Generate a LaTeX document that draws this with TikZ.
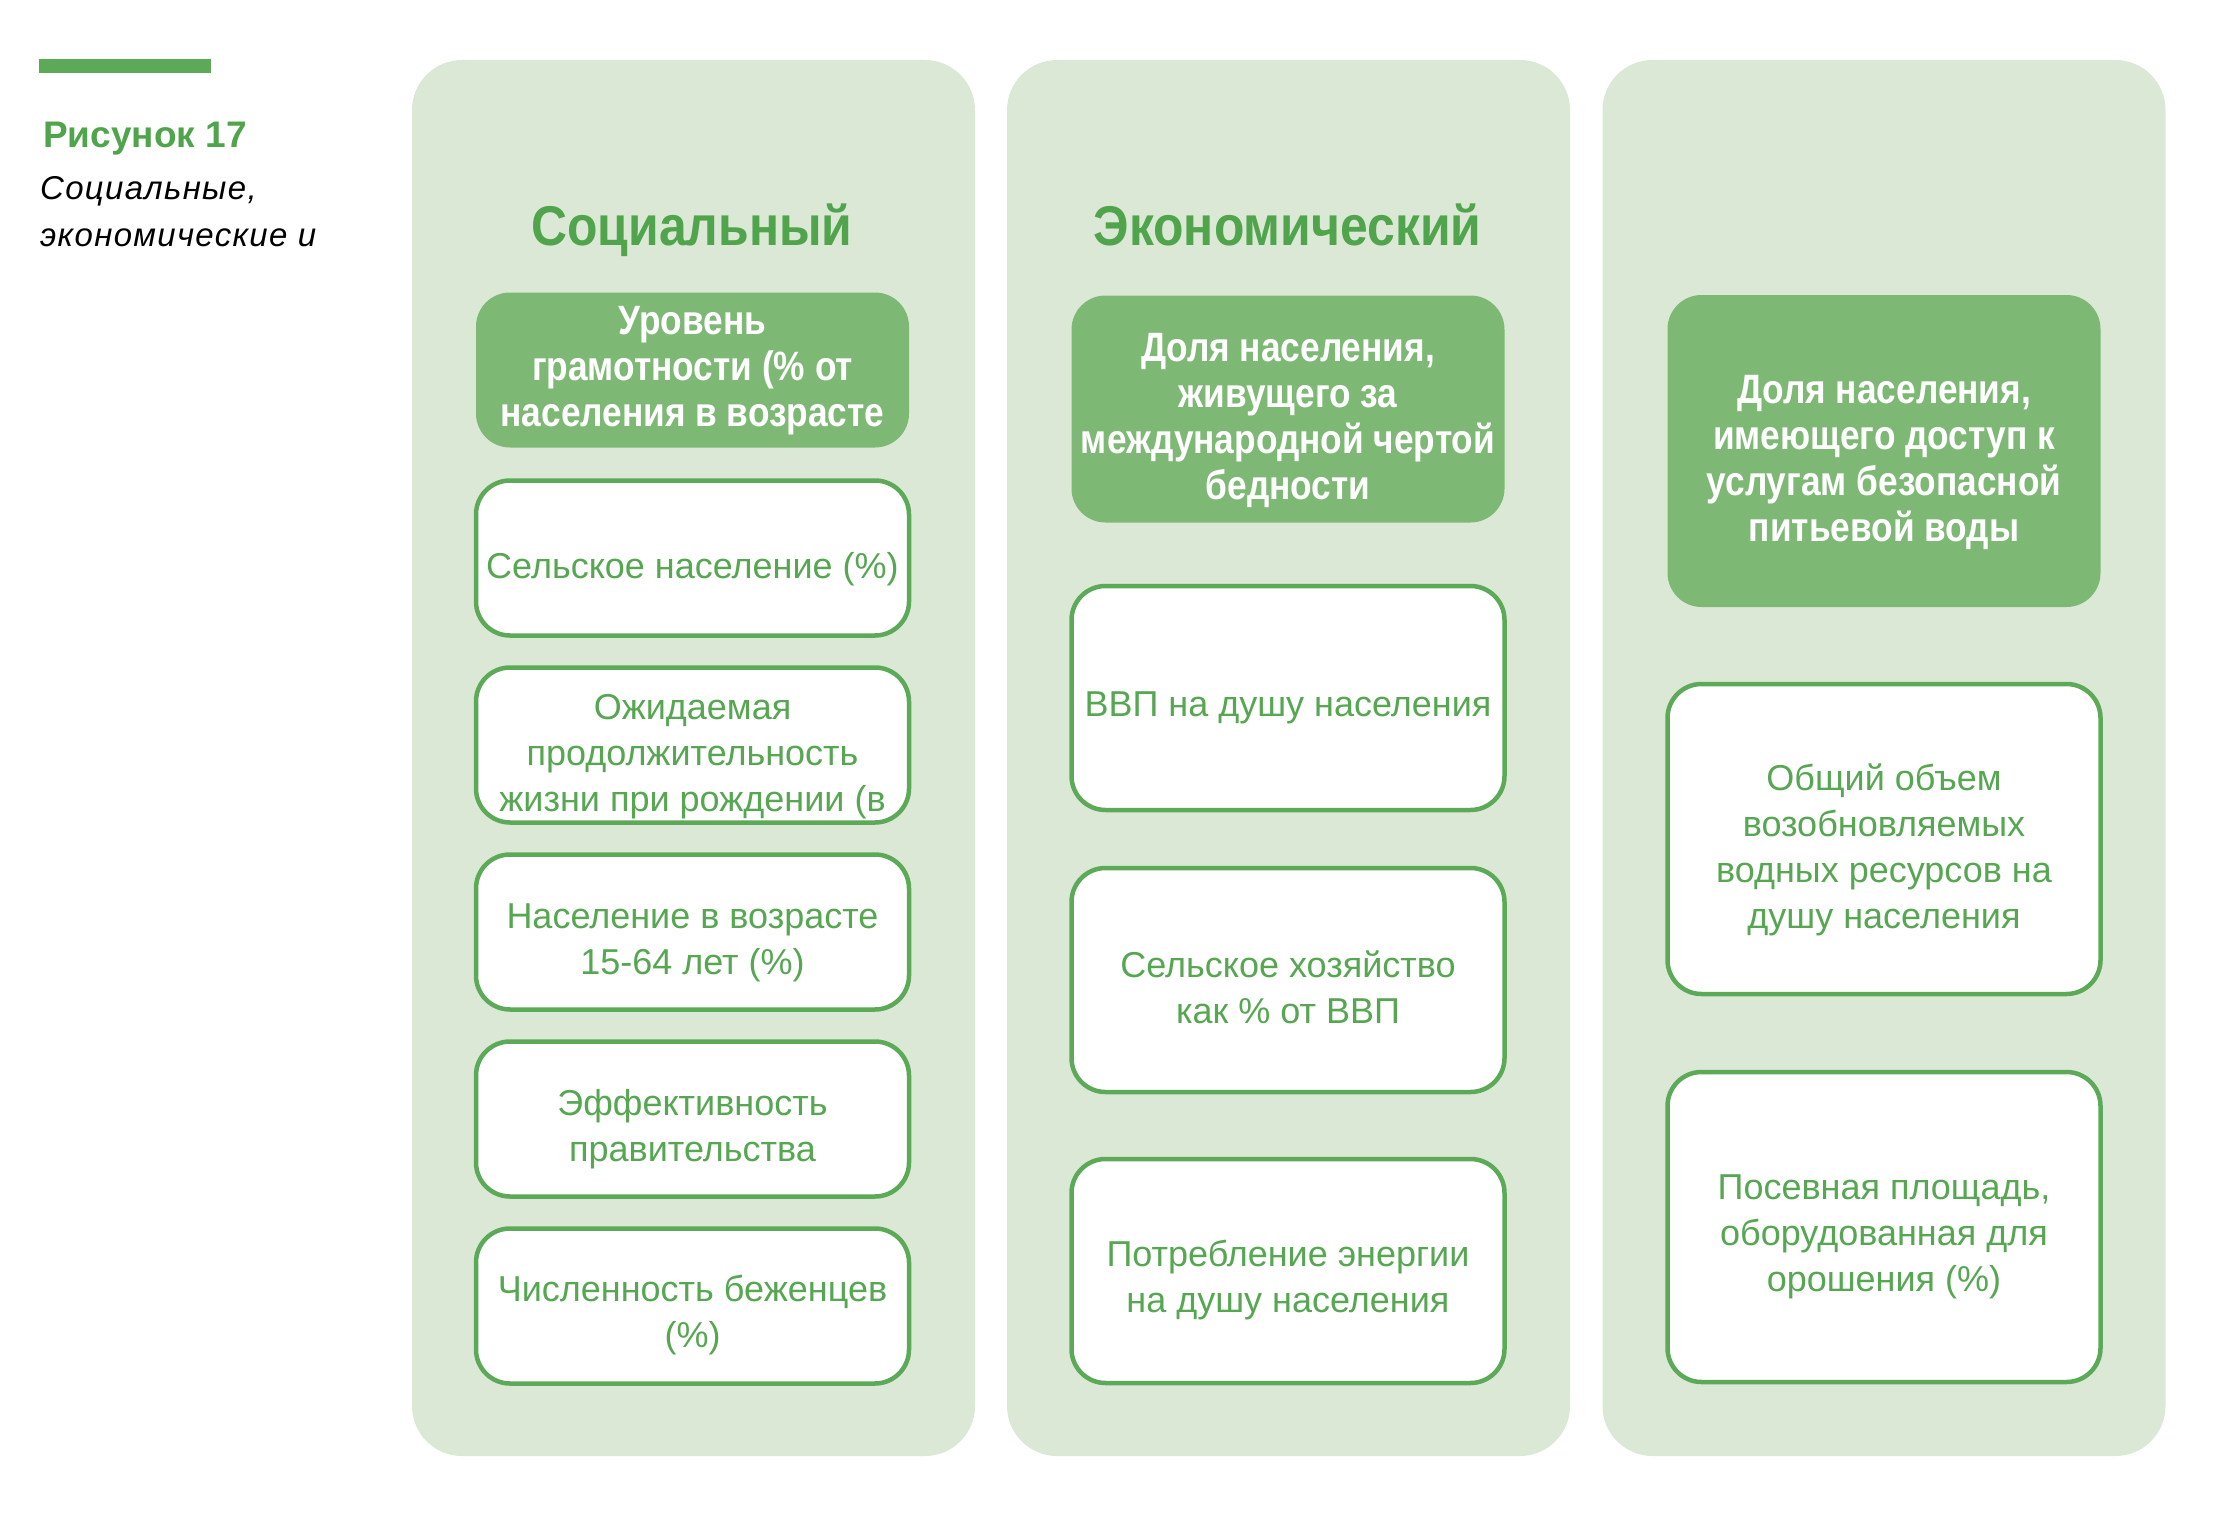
\documentclass[tikz,border=0pt]{standalone}
\usepackage{fontspec}
\setmainfont{Liberation Sans}
\newfontfamily\titlefont[FakeStretch=0.89]{Liberation Sans}
\newfontfamily\headfont[FakeStretch=0.86]{Liberation Sans}
\newfontfamily\capfont[LetterSpace=4]{Liberation Sans}
\definecolor{panelbg}{RGB}{219,232,214}
\definecolor{fillgreen}{RGB}{126,184,117}
\definecolor{linegreen}{RGB}{92,170,88}
\definecolor{textgreen}{RGB}{86,166,82}
\definecolor{titlegreen}{RGB}{80,164,76}
\tikzset{
  panel/.style={fill=panelbg, draw=none, rounded corners=50pt, minimum width=563pt, minimum height=1396pt, inner sep=0pt},
  headbox/.style={fill=fillgreen, draw=none, rounded corners=34pt, minimum width=433pt, inner sep=0pt},
  itembox/.style={fill=white, draw=linegreen, line width=4.5pt, rounded corners=34pt, minimum width=433pt, inner sep=0pt},
  headtext/.style={inner sep=0pt, align=center, text=white, font=\headfont\fontsize{41}{46}\selectfont\bfseries},
  itemtext/.style={inner sep=0pt, align=center, text=textgreen, font=\fontsize{36}{46}\selectfont},
  coltitle/.style={text=titlegreen, font=\titlefont\fontsize{56}{60}\selectfont\bfseries, inner sep=0pt, anchor=base},
}
\begin{document}
\begin{tikzpicture}[x=1pt,y=-1pt]
\useasboundingbox (0,0) rectangle (2233,1525);
% caption
\fill[linegreen] (39,59) rectangle (211,73);
\node[anchor=base west, inner sep=0pt, text=titlegreen, font=\fontsize{37}{44}\selectfont\bfseries] (fig) at (43,148) {Рисунок 17};
\node[anchor=base west, inner sep=0pt, font=\capfont\fontsize{33}{45}\selectfont\itshape] (cap1) at (40,200) {Социальные,};
\node[anchor=base west, inner sep=0pt, font=\capfont\fontsize{33}{45}\selectfont\itshape] (cap2) at (40,247) {экономические и};
% panels
\node[panel] (p1) at (693.5,758) {};
\node[panel] (p2) at (1288.5,758) {};
\node[panel] (p3) at (1884,758) {};
% titles
\node[coltitle] (t1) at (692,245) {Социальный};
\node[coltitle] (t2) at (1287.5,245) {Экономический};
% column 1
\node[headbox, minimum height=155pt] (s1) at (692.5,370) {};
\node[headtext] (s1t) at ([yshift=-1pt]s1.center) {Уровень\\грамотности (\% от\\населения в возрасте};
\node[itembox, minimum height=155pt] (s2) at (692.5,558) {};
\node[itemtext] (s2t) at ([yshift=-11pt]s2.center) {Сельское население (\%)};
\node[itembox, minimum height=155pt] (s3) at (692.5,745) {};
\node[itemtext] (s3t) at ([yshift=-12pt]s3.center) {Ожидаемая\\продолжительность\\жизни при рождении (в};
\node[itembox, minimum height=155pt] (s4) at (692.5,932) {};
\node[itemtext] (s4t) at ([yshift=-11pt]s4.center) {Население в возрасте\\15-64 лет (\%)};
\node[itembox, minimum height=155pt] (s5) at (692.5,1119) {};
\node[itemtext] (s5t) at ([yshift=-10pt]s5.center) {Эффективность\\правительства};
\node[itembox, minimum height=155pt] (s6) at (692.5,1306) {};
\node[itemtext] (s6t) at ([yshift=-9pt]s6.center) {Численность беженцев\\(\%)};
% column 2
\node[headbox, minimum height=227pt] (e1) at (1288,409) {};
\node[headtext] (e1t) at ([yshift=-11pt]e1.center) {Доля населения,\\живущего за\\международной чертой\\бедности};
\node[itembox, minimum height=224pt] (e2) at (1288,698) {};
\node[itemtext] (e2t) at ([yshift=-10pt]e2.center) {ВВП на душу населения};
\node[itembox, minimum height=224pt] (e3) at (1288,980) {};
\node[itemtext] (e3t) at ([yshift=-7pt]e3.center) {Сельское хозяйство\\как \% от ВВП};
\node[itembox, minimum height=224pt] (e4) at (1288,1271) {};
\node[itemtext] (e4t) at ([yshift=-9pt]e4.center) {Потребление энергии\\на душу населения};
% column 3
\node[headbox, minimum height=312pt] (w1) at (1884,451) {};
\node[headtext] (w1t) at ([yshift=-11pt]w1.center) {Доля населения,\\имеющего доступ к\\услугам безопасной\\питьевой воды};
\node[itembox, minimum height=310pt] (w2) at (1884,839) {};
\node[itemtext] (w2t) at ([yshift=-11pt]w2.center) {Общий объем\\возобновляемых\\водных ресурсов на\\душу населения};
\node[itembox, minimum height=310pt] (w3) at (1884,1227) {};
\node[itemtext] (w3t) at ([yshift=-10pt]w3.center) {Посевная площадь,\\оборудованная для\\орошения (\%)};
\end{tikzpicture}
\end{document}
